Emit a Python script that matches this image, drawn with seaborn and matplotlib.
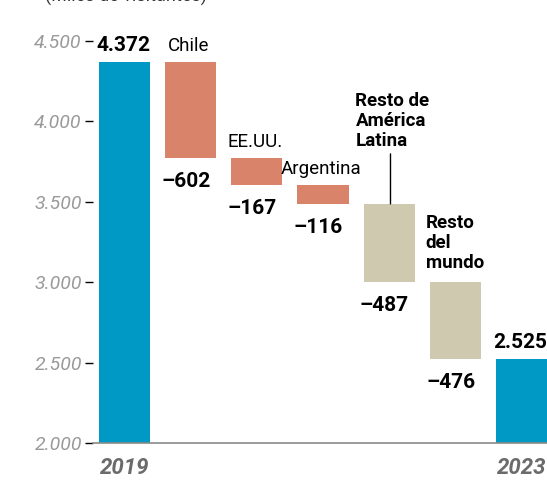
import numpy as np
import pandas as pd
import seaborn as sns
import matplotlib.pyplot as plt

# data (miles de visitantes)
categories = ['2019', 'Chile', 'EE.UU.', 'Argentina', 'Resto de\nAmérica\nLatina', 'Resto\ndel\nmundo', '2023']
start_total = 4372
end_total = 2525
changes = [-602, -167, -116, -487, -476]
group_colors = ['#0098C4', '#D9836B', '#D9836B', '#D9836B', '#CEC9AF', '#CEC9AF', '#0098C4']


def fmt(v):
    s = f'{abs(v):,}'.replace(',', '.')
    return ('–' + s) if v < 0 else s


# waterfall tops/bottoms
tops = [start_total]
bottoms = [0]
level = start_total
for c in changes:
    tops.append(level)
    bottoms.append(level + c)
    level += c
tops.append(end_total)
bottoms.append(0)

df = pd.DataFrame({'cat': categories, 'top': tops, 'bottom': bottoms})
df['height'] = df['top'] - df['bottom']

sns.set_theme(style='white')
plt.rcParams['font.family'] = ['Roboto', 'DejaVu Sans']

fig = plt.figure(figsize=(5.47, 4.82), dpi=100)
ax = fig.add_axes([93 / 547, 39 / 482, 454 / 547, 402 / 482])

sns.barplot(data=df, x='cat', y='height', hue='cat', palette=group_colors,
            width=0.775, legend=False, ax=ax, saturation=1, linewidth=0)

# lift each floating bar onto its base
for p in ax.patches:
    i = int(round(p.get_x() + p.get_width() / 2))
    p.set_y(bottoms[i])

ax.set_ylim(2000, 4500)
ax.set_xlim(-0.477, 6.386)
ax.set_yticks([2000, 2500, 3000, 3500, 4000, 4500])
ax.set_yticklabels([fmt(v) for v in [2000, 2500, 3000, 3500, 4000, 4500]],
                   fontstyle='italic', color='#9a9a9a', fontsize=14)
ax.tick_params(axis='y', length=6, width=1, color='black', pad=2, left=True)
ax.set_xticks([0, 6])
ax.set_xticklabels(['2019', '2023'], fontweight='bold', fontstyle='italic',
                   color='#6b6b6b', fontsize=16)
ax.tick_params(axis='x', length=0, pad=10)
ax.set_xlabel('')
ax.set_ylabel('')
for s in ['top', 'right', 'left']:
    ax.spines[s].set_visible(False)
ax.spines['bottom'].set_color('#8a8a8a')
ax.spines['bottom'].set_linewidth(1.2)

# totals above bars
for i, v in [(0, start_total), (6, end_total)]:
    ax.annotate(fmt(v), (i - 0.02, v), xytext=(0, 5), textcoords='offset points',
                ha='center', va='bottom', fontsize=15, fontweight='bold', color='black')

# change values below bars
for i, c in enumerate(changes, start=1):
    ax.annotate(fmt(c), (i - 0.07, bottoms[i]), xytext=(0, -10), textcoords='offset points',
                ha='center', va='top', fontsize=15, fontweight='bold', color='black')

# category names
for i in [1, 2, 3]:
    ax.annotate(categories[i], (i - 0.03, tops[i]), xytext=(0, 5), textcoords='offset points',
                ha='center', va='bottom', fontsize=13.5, color='black')

ax.annotate(categories[4], (3.49, tops[4]), xytext=(0, 39), textcoords='offset points',
            ha='left', va='bottom', fontsize=13.5, fontweight='bold', color='black',
            linespacing=1.15)
# leader line from the label down to the bar
ax.annotate('', (4.02, tops[4]), xytext=(0, 36), textcoords='offset points',
            arrowprops=dict(arrowstyle='-', color='black', lw=1, shrinkA=0, shrinkB=0))
ax.annotate(categories[5], (4.55, tops[5]), xytext=(0, 7), textcoords='offset points',
            ha='left', va='bottom', fontsize=13.5, fontweight='bold', color='black',
            linespacing=1.15)

fig.text(45 / 547, 1.0 + 4 / 482, '(Miles de visitantes)', ha='left', va='center',
         fontsize=13, color='#333333')

fig.savefig('out.png', dpi=100)
